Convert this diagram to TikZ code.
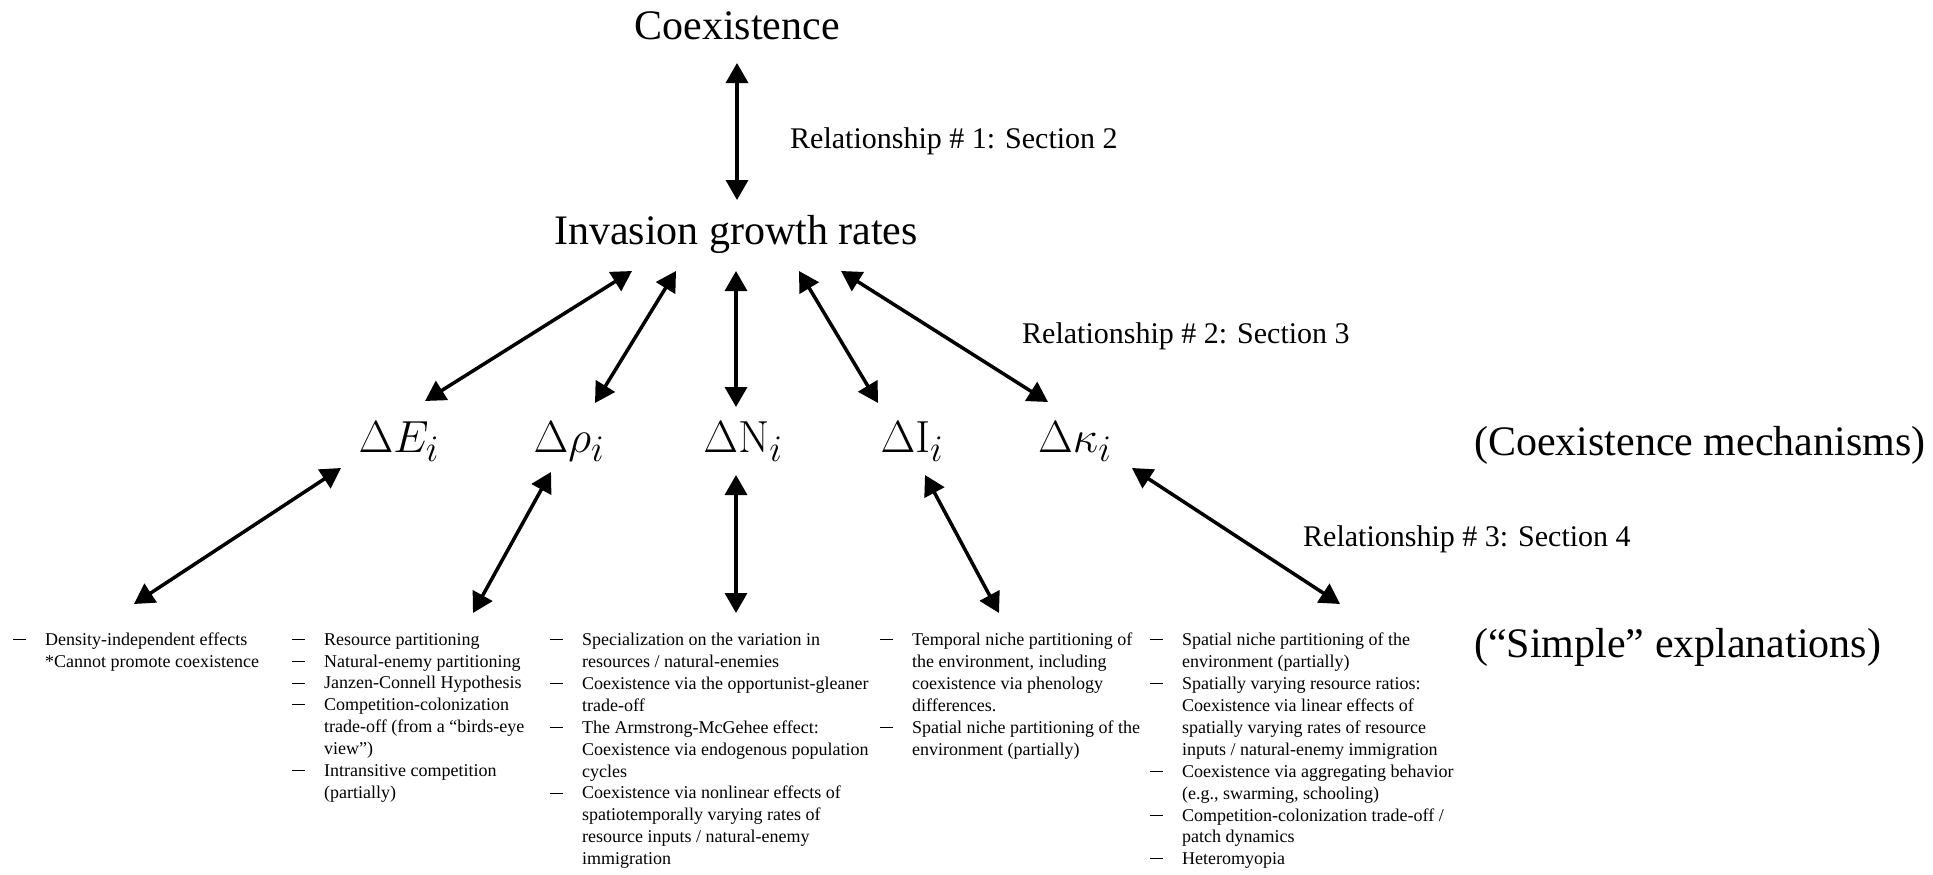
\documentclass[tikz,border=0pt]{standalone}
\usepackage[no-math]{fontspec}
\setmainfont{Liberation Serif}
\usetikzlibrary{arrows.meta}
\newcommand\lidash{\makebox[32pt][l]{\rule[5.5pt]{13pt}{0.9pt}}}
\newcommand\liind{\hspace*{32pt}}
\begin{document}
\begin{tikzpicture}[x=1pt,y=-1pt,
  big/.style={font=\fontsize{42}{48}\selectfont, inner sep=0pt, anchor=base},
  rel/.style={font=\fontsize{30}{36}\selectfont, inner sep=0pt, anchor=base west},
  mech/.style={font=\Huge, scale=1.8087, inner sep=0pt, anchor=base},
  lst/.style={font=\fontsize{18}{21.9}\selectfont, inner sep=0pt, anchor=north west, align=left},
  arr/.style={line width=3.5pt, {Triangle[length=20pt,width=22pt]}-{Triangle[length=20pt,width=22pt]}}]
\useasboundingbox (0,0) rectangle (1933,875);

\node[big] (coex) at (737,40) {Coexistence};
\node[big] (inv) at (736,244) {Invasion growth rates};

\node[rel] (rel1) at (790,148) {Relationship \# 1: Section 2};
\node[rel] (rel2) at (1022,343) {Relationship \# 2: Section 3};
\node[rel] (rel3) at (1303,546) {Relationship \# 3: Section 4};

\node[mech] (dE) at (399,452) {$\Delta E_i$};
\node[mech] (dr) at (569,452) {$\Delta\rho_i$};
\node[mech] (dN) at (743,452) {$\Delta\mathrm{N}_i$};
\node[mech] (dI) at (912,452) {$\Delta\mathrm{I}_i$};
\node[mech] (dk) at (1075,452) {$\Delta\kappa_i$};

\node[big, anchor=base west] (mechlab) at (1474,455) {(Coexistence mechanisms)};
\node[big, anchor=base west] (simplab) at (1474,657) {(“Simple” explanations)};

\node[lst] (l1) at (13,633) {\lidash Density-independent effects\\
\liind *Cannot promote coexistence};

\node[lst] (l2) at (292,633) {\lidash Resource partitioning\\
\lidash Natural-enemy partitioning\\
\lidash Janzen-Connell Hypothesis\\
\lidash Competition-colonization\\
\liind trade-off (from a “birds-eye\\
\liind view”)\\
\lidash Intransitive competition\\
\liind (partially)};

\node[lst] (l3) at (550,633) {\lidash Specialization on the variation in\\
\liind resources / natural-enemies\\
\lidash Coexistence via the opportunist-gleaner\\
\liind trade-off\\
\lidash The Armstrong-McGehee effect:\\
\liind Coexistence via endogenous population\\
\liind cycles\\
\lidash Coexistence via nonlinear effects of\\
\liind spatiotemporally varying rates of\\
\liind resource inputs / natural-enemy\\
\liind immigration};

\node[lst] (l4) at (880,633) {\lidash Temporal niche partitioning of\\
\liind the environment, including\\
\liind coexistence via phenology\\
\liind differences.\\
\lidash Spatial niche partitioning of the\\
\liind environment (partially)};

\node[lst] (l5) at (1150,633) {\lidash Spatial niche partitioning of the\\
\liind environment (partially)\\
\lidash Spatially varying resource ratios:\\
\liind Coexistence via linear effects of\\
\liind spatially varying rates of resource\\
\liind inputs / natural-enemy immigration\\
\lidash Coexistence via aggregating behavior\\
\liind (e.g., swarming, schooling)\\
\lidash Competition-colonization trade-off /\\
\liind patch dynamics\\
\lidash Heteromyopia};

\coordinate (l1a) at (134,604);
\coordinate (l2a) at (473,613);
\coordinate (l3a) at (736,613);
\coordinate (l4a) at (999,613);
\coordinate (l5a) at (1340,604);

\draw[arr] ([shift={(0,23)}]coex.base) -- ([shift={(1,-44)}]inv.base);

\draw[arr] ([shift={(-104,27)}]inv.base) -- ([shift={(26,-51)}]dE.base);
\draw[arr] ([shift={(-60,27)}]inv.base) -- ([shift={(26,-49)}]dr.base);
\draw[arr] ([shift={(0,27)}]inv.base) -- ([shift={(-7,-45)}]dN.base);
\draw[arr] ([shift={(63,27)}]inv.base) -- ([shift={(-34,-49)}]dI.base);
\draw[arr] ([shift={(105,27)}]inv.base) -- ([shift={(-27,-50)}]dk.base);

\draw[arr] ([shift={(-58,16)}]dE.base) -- (l1a);
\draw[arr] ([shift={(-18,20)}]dr.base) -- (l2a);
\draw[arr] ([shift={(-7,23)}]dN.base) -- (l3a);
\draw[arr] ([shift={(13,23)}]dI.base) -- (l4a);
\draw[arr] ([shift={(57,16)}]dk.base) -- (l5a);
\end{tikzpicture}
\end{document}
